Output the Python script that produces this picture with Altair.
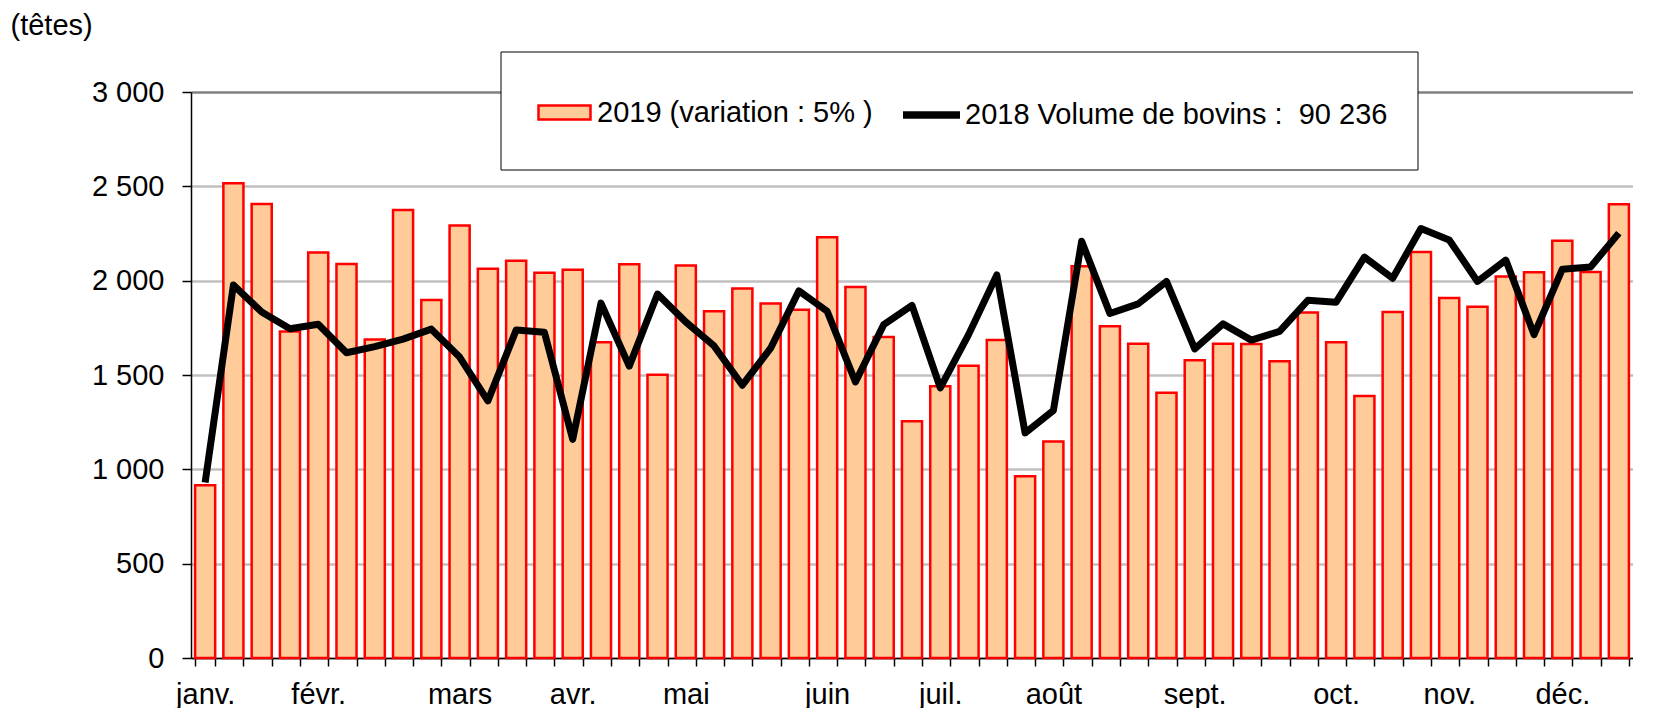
import altair as alt
import pandas as pd

# ---- data -------------------------------------------------------------
weeks = list(range(51))
vol_2019 = [916, 2517, 2407, 1731, 2149, 2089, 1688, 2374, 1898, 2293,
            2063, 2106, 2042, 2058, 1673, 2087, 1501, 2080, 1838, 1958,
            1879, 1846, 2230, 1967, 1702, 1255, 1441, 1549, 1685, 963,
            1147, 2077, 1759, 1666, 1406, 1578, 1666, 1664, 1573, 1831,
            1673, 1389, 1834, 2152, 1908, 1862, 2022, 2044, 2211, 2046, 2405]
vol_2018 = [930, 1977, 1834, 1745, 1769, 1618, 1650, 1690, 1743, 1595,
            1363, 1738, 1726, 1159, 1881, 1547, 1929, 1781, 1654, 1446,
            1642, 1946, 1838, 1463, 1767, 1869, 1432, 1714, 2030, 1193,
            1312, 2209, 1826, 1877, 1996, 1638, 1771, 1685, 1731, 1896,
            1886, 2125, 2013, 2276, 2216, 1996, 2109, 1714, 2061, 2073, 2252]
month_weeks = [0, 4, 9, 13, 17, 22, 26, 30, 35, 40, 44, 48]
month_names = ["janv.", "févr.", "mars", "avr.", "mai", "juin",
               "juil.", "août", "sept.", "oct.", "nov.", "déc."]
label_2019 = "2019 (variation : 5% )"
label_2018 = "2018 Volume de bovins :\u00a0 90 236"

df = pd.DataFrame({"semaine": weeks, "v2019": vol_2019, "v2018": vol_2018})

FONT = "Liberation Sans"
FS = 29

# month label expression
expr = "''"
for w, m in reversed(list(zip(month_weeks, month_names))):
    expr = f"datum.value == {w} ? '{m}' : ({expr})"

legend19 = alt.Legend(
    orient="none", legendX=346, legendY=-7, title=None, padding=0,
    labelFont=FONT, labelFontSize=FS, labelColor="black", labelLimit=2000,
    symbolSize=2704, symbolType="M-1,-0.27H1V0.27H-1Z",
    symbolStrokeColor="red", symbolStrokeWidth=2.5, symbolOpacity=1, labelOffset=5,
)
legend18 = alt.Legend(
    orient="none", legendX=708, legendY=-9.5, title=None, padding=0,
    labelFont=FONT, labelFontSize=FS, labelColor="black", labelLimit=2000,
    symbolSize=3249, symbolType="stroke", symbolStrokeWidth=7.5, symbolOpacity=1,
    labelOffset=1,
)

x_enc = alt.X(
    "semaine:O",
    scale=alt.Scale(paddingInner=0.29, paddingOuter=0.145),
    axis=alt.Axis(
        title=None, labelExpr=expr, labelAngle=0, tickBand="extent",
        labelFont=FONT, labelFontSize=FS, labelColor="black", labelPadding=14,
        tickSize=8, tickColor="black", domainColor="black", domainWidth=1.5,
        tickWidth=1.5, grid=False, labelOverlap=False,
    ),
)

y_axis = alt.Axis(
    values=[0, 500, 1000, 1500, 2000, 2500, 3000],
    labelExpr="replace(format(datum.value, ','), ',', ' ')",
    labelFont=FONT, labelFontSize=FS, labelColor="black", labelPadding=18,
    tickSize=9, tickColor="black", tickWidth=1.5,
    domainColor="black", domainWidth=1.5,
    grid=True, gridWidth=2.5,
    gridColor={"condition": {"test": "datum.value == 3000", "value": "#808080"},
               "value": "#C0C0C0"},
    title="(têtes)", titleAngle=0, titleAlign="left", titleBaseline="alphabetic",
    titleX=-181, titleY=-58, titleFont=FONT, titleFontSize=FS,
    titleFontWeight="normal", titleColor="black",
)

# legend frame (white box with thin black border)
frame = alt.Chart(pd.DataFrame({"k": [0]})).mark_rect(
    fill="white", stroke="black", strokeWidth=1
).encode(x=alt.value(310), x2=alt.value(1227), y=alt.value(-40), y2=alt.value(78))

bars = alt.Chart(df).mark_bar(stroke="red", strokeWidth=2.5).encode(
    x=x_enc,
    y=alt.Y("v2019:Q", scale=alt.Scale(domain=[0, 3000]), axis=y_axis),
    fill=alt.Fill("serie19:N", scale=alt.Scale(domain=[label_2019], range=["#FFCC99"]),
                  legend=legend19),
).transform_calculate(serie19=f"'{label_2019}'")

line = alt.Chart(df).mark_line(strokeWidth=7, strokeJoin="round").encode(
    x=alt.X("semaine:O"),
    y=alt.Y("v2018:Q"),
    stroke=alt.Stroke("serie18:N", scale=alt.Scale(domain=[label_2018], range=["black"]),
                      legend=legend18),
).transform_calculate(serie18=f"'{label_2018}'")

chart = alt.layer(frame, bars, line).properties(
    width=1442, height=566,
    padding={"left": 2, "top": 3, "right": 0, "bottom": 0},
).configure_view(stroke=None).configure(font=FONT)

chart.save("out.html", embed_options={"renderer": "svg", "actions": False})
